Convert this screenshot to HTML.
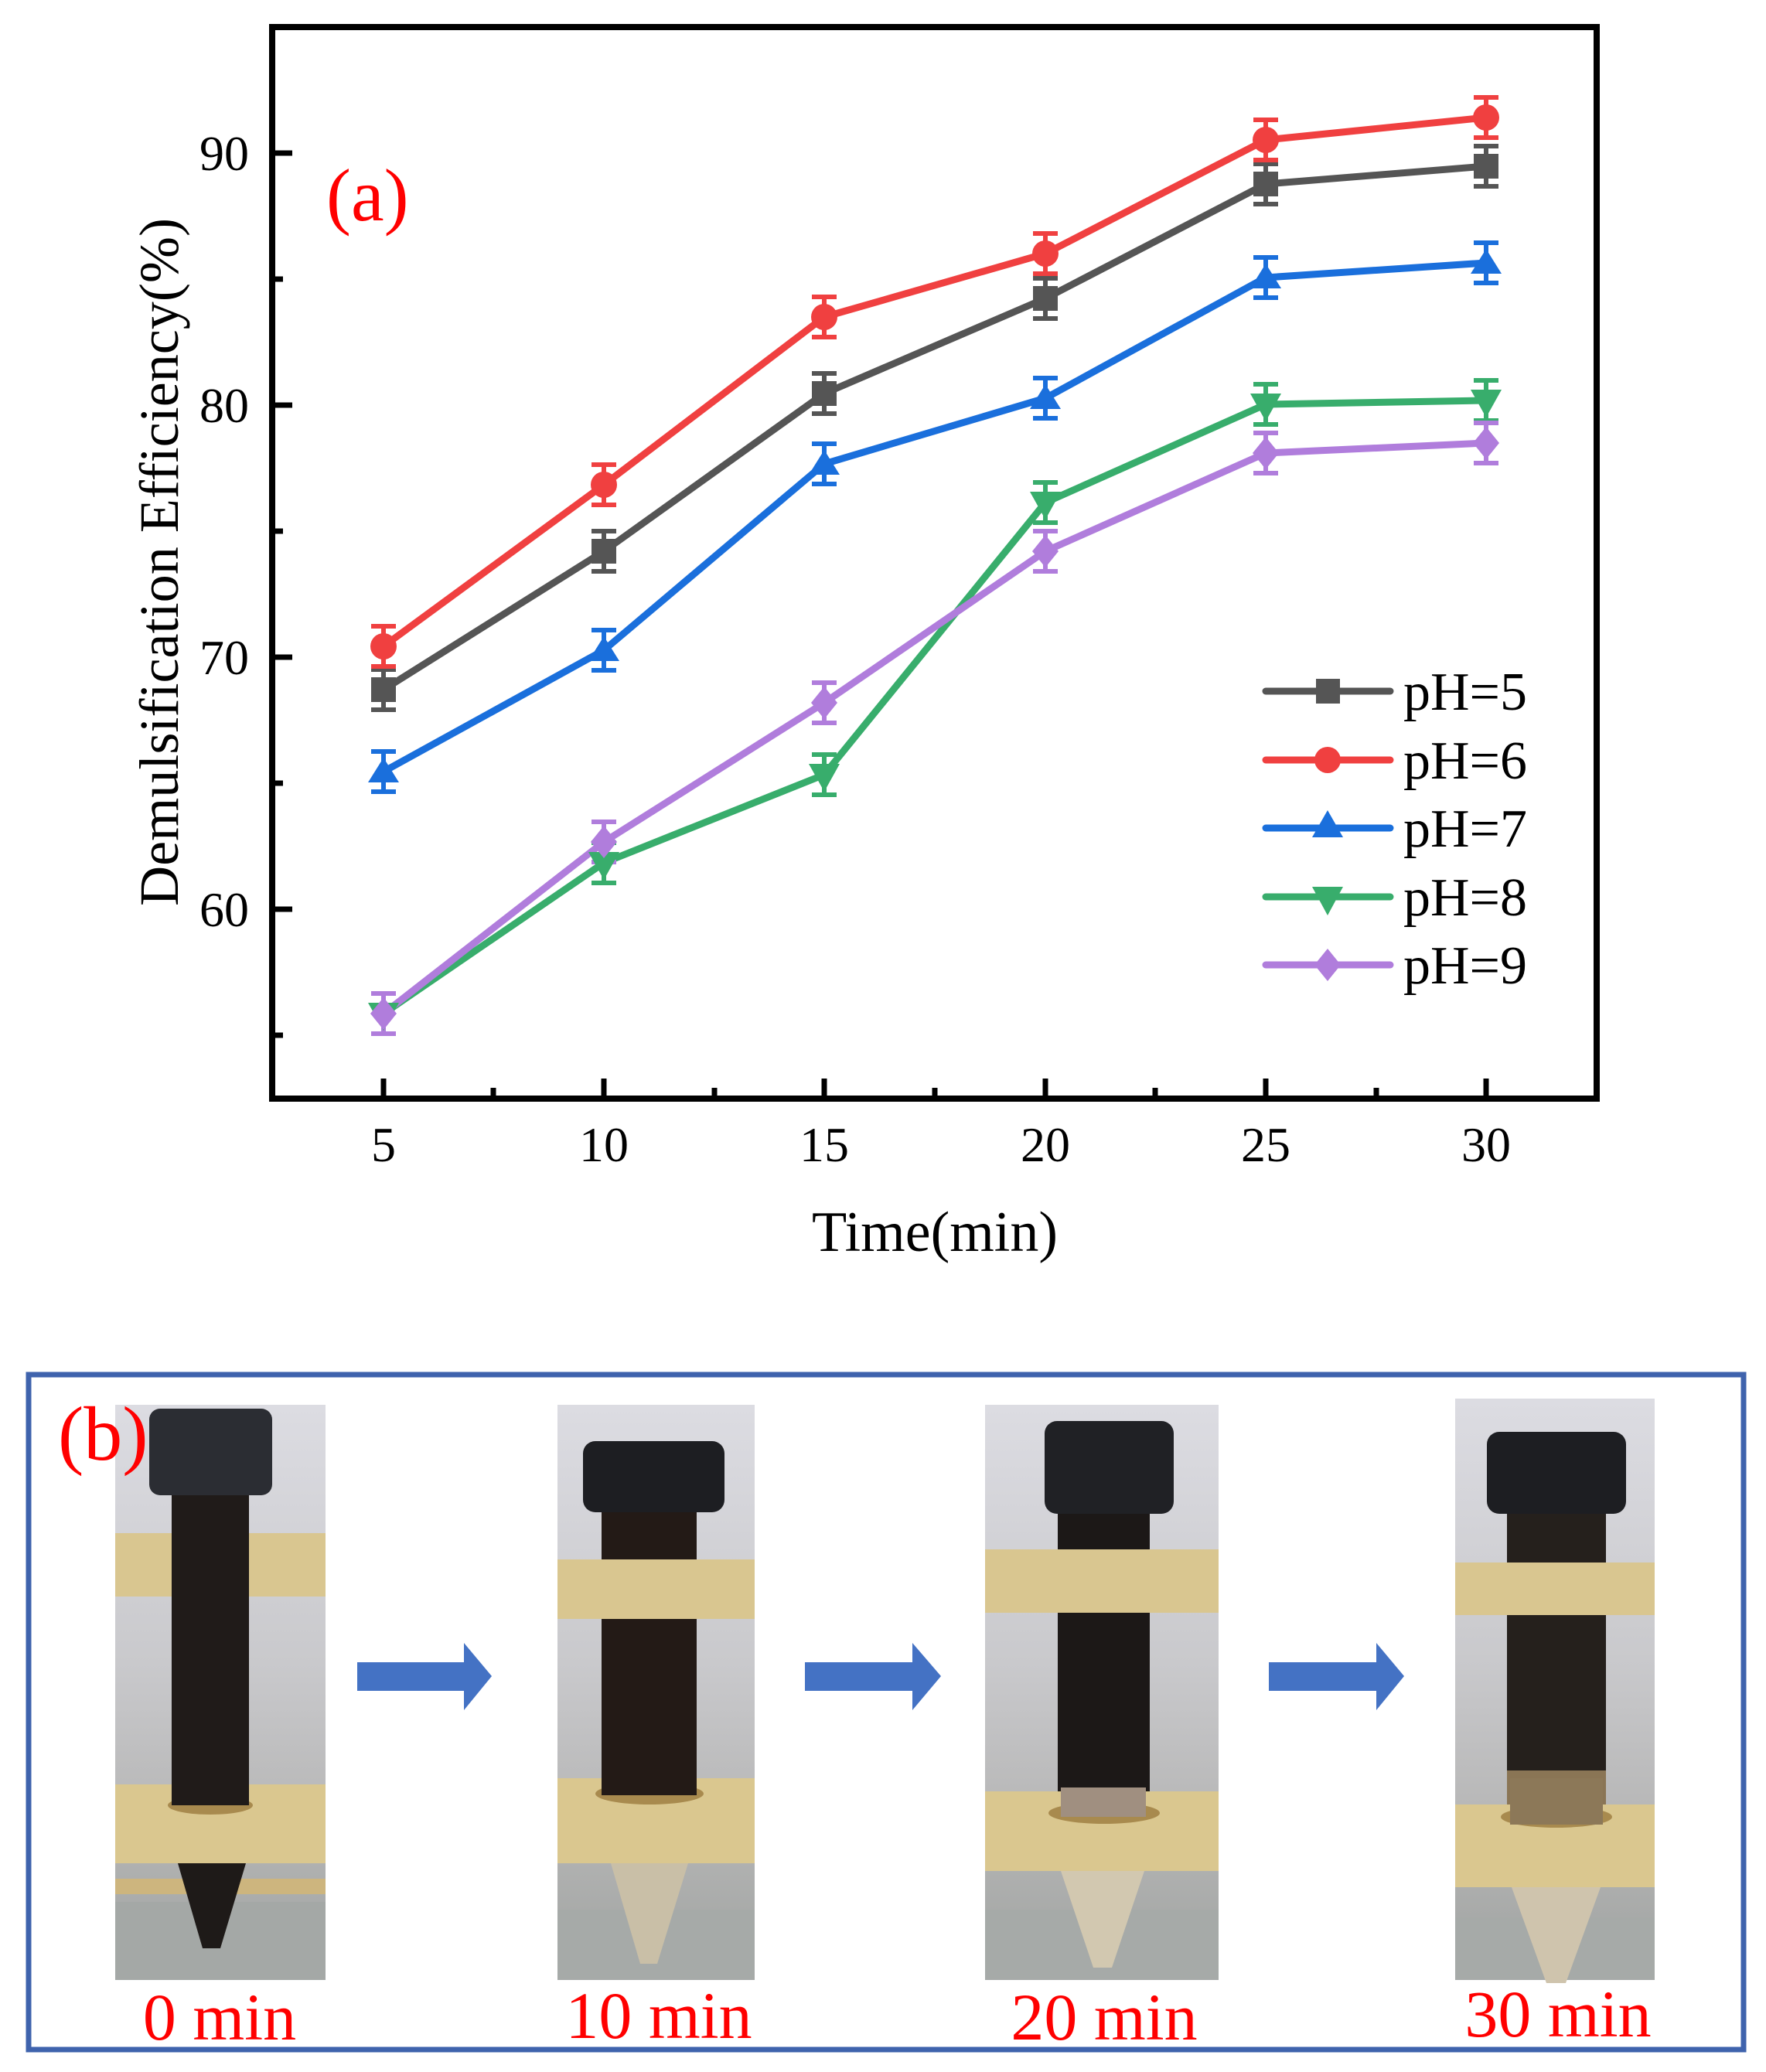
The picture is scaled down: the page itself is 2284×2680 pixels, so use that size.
<!DOCTYPE html>
<html><head><meta charset="utf-8"><style>
html,body{margin:0;padding:0;background:#fff;}
svg{display:block;}
text{font-family:"Liberation Serif",serif;}
</style></head><body>
<svg width="2284" height="2680" viewBox="0 0 2284 2680" xmlns="http://www.w3.org/2000/svg">
<rect width="2284" height="2680" fill="#fff"/>
<rect x="352" y="35" width="1713" height="1386" fill="none" stroke="#000" stroke-width="8"/>
<g stroke="#000" stroke-width="7">
<line x1="352" y1="198" x2="378" y2="198"/>
<line x1="352" y1="524" x2="378" y2="524"/>
<line x1="352" y1="850" x2="378" y2="850"/>
<line x1="352" y1="1176" x2="378" y2="1176"/>
<line x1="352" y1="361" x2="366" y2="361"/>
<line x1="352" y1="687" x2="366" y2="687"/>
<line x1="352" y1="1013" x2="366" y2="1013"/>
<line x1="352" y1="1339" x2="366" y2="1339"/>
<line x1="496" y1="1421" x2="496" y2="1395"/>
<line x1="781" y1="1421" x2="781" y2="1395"/>
<line x1="1066" y1="1421" x2="1066" y2="1395"/>
<line x1="1352" y1="1421" x2="1352" y2="1395"/>
<line x1="1637" y1="1421" x2="1637" y2="1395"/>
<line x1="1922" y1="1421" x2="1922" y2="1395"/>
<line x1="638" y1="1421" x2="638" y2="1407"/>
<line x1="924" y1="1421" x2="924" y2="1407"/>
<line x1="1209" y1="1421" x2="1209" y2="1407"/>
<line x1="1494" y1="1421" x2="1494" y2="1407"/>
<line x1="1780" y1="1421" x2="1780" y2="1407"/>
</g>
<g font-size="64" text-anchor="end" fill="#000">
<text x="322" y="220">90</text>
<text x="322" y="546">80</text>
<text x="322" y="872">70</text>
<text x="322" y="1198">60</text>
</g>
<g font-size="64" text-anchor="middle" fill="#000">
<text x="496" y="1502">5</text>
<text x="781" y="1502">10</text>
<text x="1066" y="1502">15</text>
<text x="1352" y="1502">20</text>
<text x="1637" y="1502">25</text>
<text x="1922" y="1502">30</text>
</g>
<text x="1209" y="1618" font-size="74" text-anchor="middle">Time(min)</text>
<text transform="translate(230,727) rotate(-90)" font-size="72" text-anchor="middle" textLength="890" lengthAdjust="spacingAndGlyphs">Demulsification Efficiency(%)</text>
<text x="422" y="285" font-size="96" fill="#ff0000">(a)</text>

<g fill="none" stroke-width="9" stroke-linejoin="round" stroke-linecap="round">
<polyline stroke="#555555" points="496,892 781,713 1066,509 1352,386 1637,238 1922,215"/>
<polyline stroke="#f04040" points="496,836 781,627 1066,410 1352,328 1637,181 1922,152"/>
<polyline stroke="#1a6fdc" points="496,998 781,841 1066,600 1352,515 1637,359 1922,340"/>
<polyline stroke="#38ad6c" points="496,1311 781,1116 1066,1002 1352,650 1637,523 1922,518"/>
<polyline stroke="#b07ddc" points="496,1311 781,1089 1066,909 1352,713 1637,586 1922,573"/>
</g>
<g stroke-width="6" fill="none">
<path stroke="#555555" d="M496,866v52M480,866h32M480,918h32 M781,687v52M765,687h32M765,739h32 M1066,483v52M1050,483h32M1050,535h32 M1352,360v52M1336,360h32M1336,412h32 M1637,212v52M1621,212h32M1621,264h32 M1922,189v52M1906,189h32M1906,241h32"/>
<path stroke="#f04040" d="M496,810v52M480,810h32M480,862h32 M781,601v52M765,601h32M765,653h32 M1066,384v52M1050,384h32M1050,436h32 M1352,302v52M1336,302h32M1336,354h32 M1637,155v52M1621,155h32M1621,207h32 M1922,126v52M1906,126h32M1906,178h32"/>
<path stroke="#1a6fdc" d="M496,972v52M480,972h32M480,1024h32 M781,815v52M765,815h32M765,867h32 M1066,574v52M1050,574h32M1050,626h32 M1352,489v52M1336,489h32M1336,541h32 M1637,333v52M1621,333h32M1621,385h32 M1922,314v52M1906,314h32M1906,366h32"/>
<path stroke="#38ad6c" d="M496,1285v52M480,1285h32M480,1337h32 M781,1090v52M765,1090h32M765,1142h32 M1066,976v52M1050,976h32M1050,1028h32 M1352,624v52M1336,624h32M1336,676h32 M1637,497v52M1621,497h32M1621,549h32 M1922,492v52M1906,492h32M1906,544h32"/>
<path stroke="#b07ddc" d="M496,1285v52M480,1285h32M480,1337h32 M781,1063v52M765,1063h32M765,1115h32 M1066,883v52M1050,883h32M1050,935h32 M1352,687v52M1336,687h32M1336,739h32 M1637,560v52M1621,560h32M1621,612h32 M1922,547v52M1906,547h32M1906,599h32"/>
</g>
<g fill="#555555"><rect x="480" y="876" width="32" height="32"/><rect x="765" y="697" width="32" height="32"/><rect x="1050" y="493" width="32" height="32"/><rect x="1336" y="370" width="32" height="32"/><rect x="1621" y="222" width="32" height="32"/><rect x="1906" y="199" width="32" height="32"/></g>
<g fill="#f04040"><circle cx="496" cy="836" r="17"/><circle cx="781" cy="627" r="17"/><circle cx="1066" cy="410" r="17"/><circle cx="1352" cy="328" r="17"/><circle cx="1637" cy="181" r="17"/><circle cx="1922" cy="152" r="17"/></g>
<g fill="#1a6fdc"><path d="M496,980l20,32h-40z M781,823l20,32h-40z M1066,582l20,32h-40z M1352,497l20,32h-40z M1637,341l20,32h-40z M1922,322l20,32h-40z"/></g>
<g fill="#38ad6c"><path d="M476,1297h40l-20,36z M761,1102h40l-20,36z M1046,988h40l-20,36z M1332,636h40l-20,36z M1617,509h40l-20,36z M1902,504h40l-20,36z"/></g>
<g fill="#b07ddc"><path d="M496,1290l17,21l-17,21l-17,-21z M781,1068l17,21l-17,21l-17,-21z M1066,888l17,21l-17,21l-17,-21z M1352,692l17,21l-17,21l-17,-21z M1637,565l17,21l-17,21l-17,-21z M1922,552l17,21l-17,21l-17,-21z"/></g>

<g stroke-width="9" stroke-linecap="round">
<line x1="1637" y1="894" x2="1798" y2="894" stroke="#555555"/>
<line x1="1637" y1="983" x2="1798" y2="983" stroke="#f04040"/>
<line x1="1637" y1="1071" x2="1798" y2="1071" stroke="#1a6fdc"/>
<line x1="1637" y1="1160" x2="1798" y2="1160" stroke="#38ad6c"/>
<line x1="1637" y1="1248" x2="1798" y2="1248" stroke="#b07ddc"/>
</g>
<rect x="1702" y="878" width="31" height="32" fill="#555555"/>
<circle cx="1717" cy="983" r="17" fill="#f04040"/>
<path d="M1717,1048l20,35h-40z" fill="#1a6fdc"/>
<path d="M1697,1147h40l-20,37z" fill="#38ad6c"/>
<path d="M1717,1227l17,21l-17,21l-17,-21z" fill="#b07ddc"/>
<g font-size="70" fill="#000">
<text x="1815" y="918">pH=5</text>
<text x="1815" y="1007">pH=6</text>
<text x="1815" y="1095">pH=7</text>
<text x="1815" y="1184">pH=8</text>
<text x="1815" y="1272">pH=9</text>
</g>

<rect x="37" y="1778" width="2218" height="873" fill="none" stroke="#3f63ad" stroke-width="7"/>
<defs>
<linearGradient id="bg" x1="0" y1="0" x2="0" y2="1">
<stop offset="0" stop-color="#dcdce2"/><stop offset="0.45" stop-color="#c9c9cc"/><stop offset="0.7" stop-color="#b8b8b8"/><stop offset="1" stop-color="#9fa2a0"/>
</linearGradient>
</defs>
<g>
<rect x="149" y="1817" width="272" height="744" fill="url(#bg)"/>
<rect x="149" y="2460" width="272" height="101" fill="#a4a8a6"/>
<rect x="149" y="2430" width="272" height="20" fill="#cdb57e"/>
<path d="M230,2410 L318,2410 L285,2520 L262,2520 Z" fill="#1e1a18"/>
<rect x="149" y="1983" width="272" height="82" fill="#d9c690"/>
<rect x="222" y="1930" width="100" height="400" fill="#201b19"/>
<rect x="149" y="2308" width="272" height="102" fill="#dac78f"/>
<ellipse cx="272" cy="2335" rx="55" ry="12" fill="#a88a4e"/>
<rect x="222" y="2260" width="100" height="75" fill="#201b19"/>
<rect x="193" y="1822" width="159" height="112" rx="14" fill="#2b2d33"/>
</g>
<g>
<rect x="721" y="1817" width="255" height="744" fill="url(#bg)"/>
<rect x="721" y="2470" width="255" height="91" fill="#a6aaa8"/>
<path d="M790,2410 L890,2410 L850,2540 L828,2540 Z" fill="#c9bfa7"/>
<rect x="778" y="1940" width="123" height="390" fill="#231a16"/>
<rect x="721" y="2017" width="255" height="77" fill="#d9c690"/>
<rect x="721" y="2300" width="255" height="110" fill="#dac78f"/>
<ellipse cx="840" cy="2320" rx="70" ry="14" fill="#a88a4e"/>
<rect x="778" y="2240" width="123" height="82" fill="#231a16"/>
<rect x="754" y="1864" width="183" height="92" rx="16" fill="#1d1e22"/>
</g>
<g>
<rect x="1274" y="1817" width="302" height="744" fill="url(#bg)"/>
<rect x="1274" y="2470" width="302" height="91" fill="#a6aaa8"/>
<path d="M1372,2420 L1480,2420 L1438,2545 L1414,2545 Z" fill="#d2c8b0"/>
<rect x="1368" y="1950" width="119" height="380" fill="#1c1817"/>
<rect x="1274" y="2004" width="302" height="82" fill="#d9c690"/>
<rect x="1274" y="2317" width="302" height="103" fill="#dac78f"/>
<ellipse cx="1428" cy="2345" rx="72" ry="14" fill="#a88a4e"/>
<rect x="1372" y="2310" width="110" height="40" fill="#a08f80"/>
<rect x="1368" y="2230" width="119" height="82" fill="#1c1817"/>
<rect x="1351" y="1838" width="167" height="120" rx="16" fill="#202125"/>
</g>
<g>
<rect x="1882" y="1809" width="258" height="752" fill="url(#bg)"/>
<rect x="1882" y="2480" width="258" height="81" fill="#a6aaa8"/>
<path d="M1955,2441 L2070,2441 L2025,2565 L2000,2565 Z" fill="#cfc4ad"/>
<rect x="1949" y="1950" width="128" height="340" fill="#25201c"/>
<rect x="1949" y="2290" width="128" height="60" fill="#8a7555"/>
<rect x="1882" y="2021" width="258" height="68" fill="#d9c690"/>
<rect x="1882" y="2334" width="258" height="107" fill="#dac78f"/>
<ellipse cx="2013" cy="2350" rx="72" ry="14" fill="#a88a4e"/>
<rect x="1953" y="2300" width="120" height="60" fill="#8c7858"/>
<rect x="1923" y="1852" width="180" height="106" rx="16" fill="#1d1e22"/>
</g>
<g fill="#4472c4">
<path d="M462,2150 H600 V2125 L636,2168 L600,2212 V2187 H462 Z"/>
<path d="M1041,2150 H1180 V2125 L1217,2168 L1180,2212 V2187 H1041 Z"/>
<path d="M1641,2150 H1780 V2125 L1816,2168 L1780,2212 V2187 H1641 Z"/>
</g>
<text x="75" y="1888" font-size="100" fill="#ff0000">(b)</text>
<g font-size="86" fill="#ff0000" text-anchor="middle">
<text x="284" y="2638">0 min</text>
<text x="852" y="2636">10 min</text>
<text x="1428" y="2638">20 min</text>
<text x="2015" y="2634">30 min</text>
</g>
</svg>
</body></html>
